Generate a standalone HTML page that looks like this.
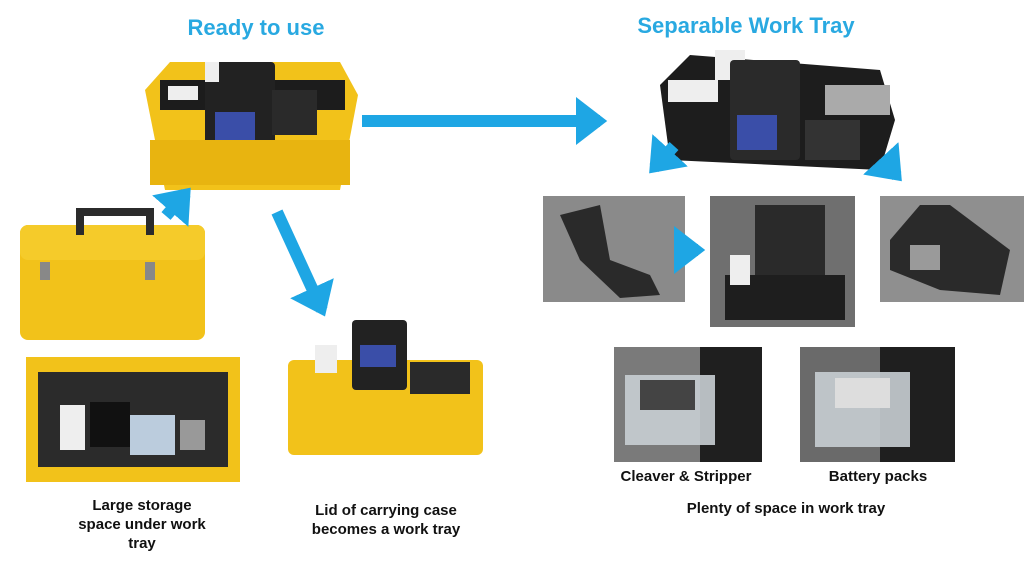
<!DOCTYPE html>
<html><head><meta charset="utf-8"><style>
html,body{margin:0;padding:0;background:#fff;width:1024px;height:563px;overflow:hidden}
svg{display:block}
text{font-family:"Liberation Sans",sans-serif;font-weight:bold}
</style></head><body>
<svg width="1024" height="563" viewBox="0 0 1024 563" xmlns="http://www.w3.org/2000/svg">
<defs>
<marker id="ah" markerWidth="4" markerHeight="4" refX="2" refY="2" orient="auto" markerUnits="strokeWidth">
<path d="M0,0 L2.6,2 L0,4 z" fill="#1ea6e4"/></marker>
</defs>
<text x="256" y="35" font-size="22" fill="#29a9e1" text-anchor="middle">Ready to use</text>
<text x="746" y="33" font-size="22" fill="#29a9e1" text-anchor="middle">Separable Work Tray</text>

<polygon points="145,90 170,62 340,62 358,95 340,190 165,190" fill="#f2c21a"/>
<rect x="160" y="80" width="185" height="30" fill="#1c1c1c"/>
<rect x="205" y="62" width="70" height="88" rx="4" fill="#222"/>
<rect x="215" y="112" width="40" height="30" fill="#3a4ea8"/>
<rect x="272" y="90" width="45" height="45" fill="#2a2a2a"/>
<rect x="168" y="86" width="30" height="14" fill="#eee"/>
<rect x="205" y="62" width="14" height="20" fill="#eee"/>
<rect x="150" y="140" width="200" height="45" fill="#e8b410"/>

<rect x="20" y="225" width="185" height="115" rx="8" fill="#f2c21a"/>
<rect x="20" y="225" width="185" height="35" rx="8" fill="#f5cb2a"/>
<path d="M80,235 L80,212 L150,212 L150,235" stroke="#2b2b2b" stroke-width="8" fill="none"/>
<rect x="40" y="262" width="10" height="18" fill="#888"/><rect x="145" y="262" width="10" height="18" fill="#888"/>

<rect x="26" y="357" width="214" height="125" fill="#f2c21a"/>
<rect x="38" y="372" width="190" height="95" fill="#2b2b2b"/>
<rect x="60" y="405" width="25" height="45" fill="#eee"/>
<rect x="90" y="402" width="40" height="45" fill="#111"/>
<rect x="130" y="415" width="45" height="40" fill="#bcd"/>
<rect x="180" y="420" width="25" height="30" fill="#999"/>

<rect x="288" y="360" width="195" height="95" rx="6" fill="#f2c21a"/>
<rect x="352" y="320" width="55" height="70" rx="4" fill="#222"/>
<rect x="360" y="345" width="36" height="22" fill="#3a4ea8"/>
<rect x="410" y="362" width="60" height="32" fill="#2a2a2a"/>
<rect x="315" y="345" width="22" height="28" fill="#eee"/>

<polygon points="660,85 690,55 880,70 895,120 880,170 670,160" fill="#1d1d1d"/>
<rect x="668" y="80" width="50" height="22" fill="#eee"/>
<rect x="715" y="50" width="30" height="30" fill="#eee"/>
<rect x="730" y="60" width="70" height="100" rx="4" fill="#2a2a2a"/>
<rect x="737" y="115" width="40" height="35" fill="#3a4ea8"/>
<rect x="825" y="85" width="65" height="30" fill="#aaa"/>
<rect x="805" y="120" width="55" height="40" fill="#333"/>

<rect x="543" y="196" width="142" height="106" fill="#8a8a8a"/>
<polygon points="560,215 600,205 610,260 650,275 660,295 620,298 580,260" fill="#2a2a2a"/>
<rect x="710" y="196" width="145" height="131" fill="#6f6f6f"/>
<rect x="755" y="205" width="70" height="70" fill="#2a2a2a"/>
<rect x="725" y="275" width="120" height="45" fill="#1e1e1e"/>
<rect x="730" y="255" width="20" height="30" fill="#eee"/>
<rect x="880" y="196" width="144" height="106" fill="#8f8f8f"/>
<polygon points="890,240 920,205 950,205 1010,250 1000,295 940,290 890,270" fill="#2a2a2a"/>
<rect x="910" y="245" width="30" height="25" fill="#9a9a9a"/>

<rect x="614" y="347" width="148" height="115" fill="#7a7a7a"/>
<rect x="700" y="347" width="62" height="115" fill="#1f1f1f"/>
<rect x="625" y="375" width="90" height="70" fill="#c8ced3" opacity="0.9"/>
<rect x="640" y="380" width="55" height="30" fill="#444"/>
<rect x="800" y="347" width="155" height="115" fill="#6a6a6a"/>
<rect x="880" y="347" width="75" height="115" fill="#1f1f1f"/>
<rect x="815" y="372" width="95" height="75" fill="#c8ced3" opacity="0.9"/>
<rect x="835" y="378" width="55" height="30" fill="#ddd"/>

<g stroke="#1ea6e4" stroke-width="12" fill="none" marker-end="url(#ah)">
<line x1="362" y1="121" x2="600" y2="121"/>
<line x1="166" y1="216" x2="186" y2="193"/>
<line x1="277" y1="212" x2="322" y2="310"/>
<line x1="674" y1="146" x2="654" y2="168"/>
<line x1="886" y1="164" x2="897" y2="176"/>
<line x1="686" y1="250" x2="698" y2="250"/>
</g>

<g font-size="15" fill="#111" text-anchor="middle">
<text x="142" y="510">Large storage</text>
<text x="142" y="529">space under work</text>
<text x="142" y="548">tray</text>
<text x="386" y="515">Lid of carrying case</text>
<text x="386" y="534">becomes a work tray</text>
<text x="686" y="481">Cleaver &amp; Stripper</text>
<text x="878" y="481">Battery packs</text>
<text x="786" y="513">Plenty of space in work tray</text>
</g>
</svg>
</body></html>
